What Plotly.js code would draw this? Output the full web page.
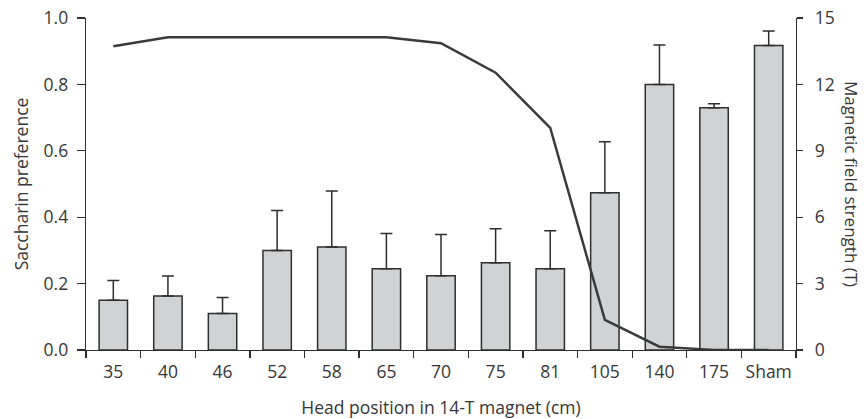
<!DOCTYPE html>
<html>
<head>
<meta charset="utf-8">
<script src="https://cdn.plot.ly/plotly-3.0.1.min.js"></script>
<style>html,body{margin:0;padding:0;background:#fff;}#chart{width:867px;height:419px;}</style>
</head>
<body>
<div id="chart"></div>
<script>
var categories = ["35","40","46","52","58","65","70","75","81","105","140","175","Sham"];
var preference = [0.15,0.163,0.11,0.30,0.31,0.245,0.224,0.263,0.245,0.474,0.80,0.73,0.917];
var preferenceErr = [0.059,0.06,0.048,0.12,0.169,0.106,0.124,0.102,0.114,0.153,0.119,0.012,0.044];
var fieldStrength = [13.72,14.13,14.13,14.13,14.13,14.13,13.86,12.53,10.04,1.36,0.15,0,0];
var leftTicks = [0,0.2,0.4,0.6,0.8,1.0];
var rightTicks = [0,3,6,9,12,15];

var textColor = "#363636";
var fontFam = "'Open Sans', 'DejaVu Sans', sans-serif";
var fs = 17.5;

var bars = {
  type: "bar",
  x: categories,
  y: preference,
  width: 0.52,
  marker: {color: "#d1d2d4", line: {color: "#2e2e2e", width: 1.5}},
  error_y: {type: "data", symmetric: false, array: preferenceErr,
            arrayminus: preferenceErr.map(function(){return 0;}),
            color: "#2e2e2e", thickness: 1.5, width: 6},
  hoverinfo: "none",
  showlegend: false
};
var line = {
  type: "scatter",
  mode: "lines",
  x: categories,
  y: fieldStrength,
  yaxis: "y2",
  line: {color: "#3a3a3a", width: 2.5},
  hoverinfo: "none",
  showlegend: false
};

var layout = {
  width: 867, height: 419,
  margin: {l: 86, r: 71, t: 18, b: 69},
  paper_bgcolor: "#ffffff", plot_bgcolor: "#ffffff",
  font: {family: fontFam, color: textColor, size: fs},
  xaxis: {
    type: "category",
    range: [-0.5, 12.5],
    tickangle: 0,
    showline: true, linecolor: "#2e2e2e", linewidth: 1.3,
    ticks: "outside", tickson: "boundaries", ticklen: 7, tickwidth: 1.3, tickcolor: "#2e2e2e",
    ticklabelstandoff: 6,
    showgrid: false, zeroline: false,
    tickfont: {size: fs, color: textColor},
    title: {text: "Head position in 14-T magnet (cm)", font: {size: fs, color: textColor}, standoff: 21}
  },
  yaxis: {
    range: [0, 1],
    tickvals: leftTicks,
    ticktext: leftTicks.map(function(v){return v.toFixed(1);}),
    showline: true, linecolor: "#2e2e2e", linewidth: 1.3,
    ticks: "outside", ticklen: 8, tickwidth: 1.3, tickcolor: "#2e2e2e",
    ticklabelstandoff: 5,
    showgrid: false, zeroline: false,
    tickfont: {size: fs, color: textColor},
    title: {text: "Saccharin preference", font: {size: fs, color: textColor}, standoff: 10}
  },
  yaxis2: {
    overlaying: "y", side: "right",
    range: [0, 15],
    tickvals: rightTicks,
    showline: true, linecolor: "#2e2e2e", linewidth: 1.3,
    ticks: "outside", ticklen: 6, tickwidth: 1.3, tickcolor: "#2e2e2e",
    ticklabelstandoff: 8,
    showgrid: false, zeroline: false,
    tickfont: {size: fs, color: textColor}
  },
  annotations: [{
    text: "Magnetic field strength (T)",
    xref: "paper", yref: "paper",
    x: 1, y: 0.5,
    xanchor: "center", yanchor: "middle",
    xshift: 56,
    textangle: 90,
    showarrow: false,
    font: {size: 17, color: textColor, family: fontFam}
  }]
};

Plotly.newPlot("chart", [bars, line], layout, {displayModeBar: false, staticPlot: true});
</script>
</body>
</html>
